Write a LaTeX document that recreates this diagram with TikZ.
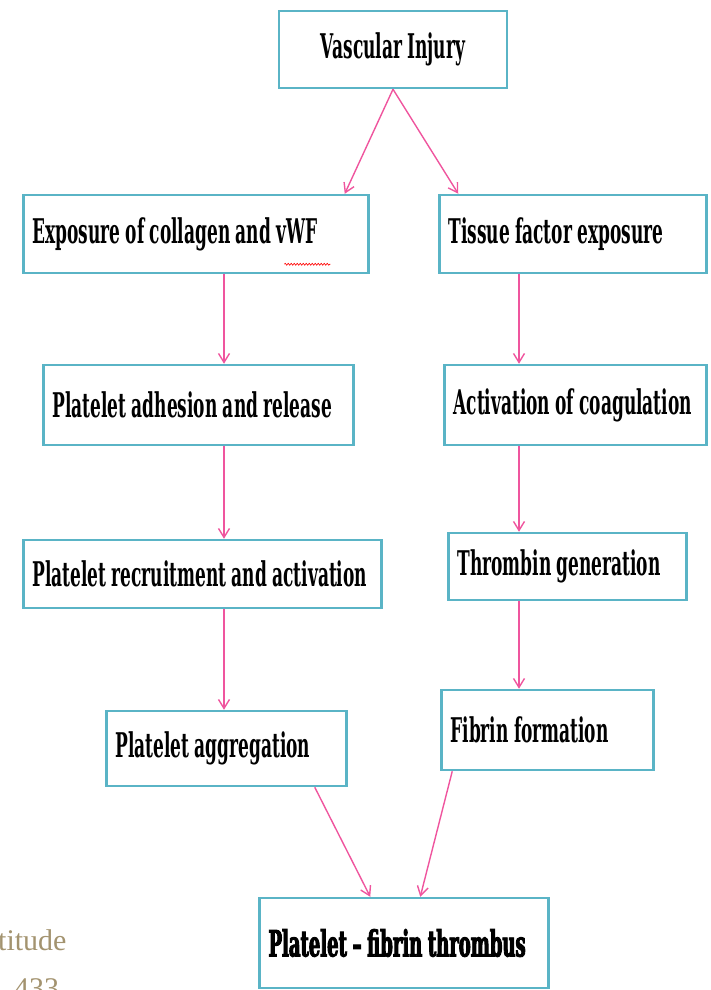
\documentclass[tikz,border=0pt]{standalone}
\usepackage{fontspec}
\setmainfont{DejaVu Serif}[UprightFont=* Bold, BoldFont=* Bold, BoldFeatures={FakeBold=2.5}, FakeStretch=0.5, WordSpace=0.9]
\newfontfamily\notefont{Liberation Serif}
\usetikzlibrary{arrows.meta,decorations.pathmorphing}
\definecolor{boxteal}{HTML}{5AB4C6}
\definecolor{arrowpink}{HTML}{EF559E}
\definecolor{notetan}{HTML}{A3936F}

\begin{document}
\begin{tikzpicture}[x=1pt, y=-1pt,
	box/.style = {draw=boxteal, line width=2.5pt, fill=white, align=left, inner xsep=9pt, font=\fontsize{34}{38}\selectfont,
		execute at begin node={\spaceskip=0pt\xspaceskip=0pt}},
	link/.style = {draw=arrowpink, line width=1.4pt, -{Straight Barb[length=9pt,width=11pt]}},
	squiggle/.style = {draw=red, line width=0.6pt, decorate, decoration={snake, amplitude=1pt, segment length=3pt}}]
	\useasboundingbox (0,0) rectangle (710,990);
	\coordinate (lcol) at (224,0);
	\coordinate (rcol) at (519,0);
	% boxes
	\node[box, minimum width=228pt, minimum height=77pt, align=center] (inj) at (393,49.5) {Vascular Injury};
	\node[box, text width=327pt, minimum height=78pt] (expo) at (196,234) {\mbox{Exposure of collagen and vWF}};
	\node[box, text width=249pt, minimum height=78pt] (tissue) at (573,234) {\mbox{Tissue factor exposure}};
	\node[box, text width=292pt, minimum height=80pt] (adh) at (198.5,405) {\mbox{Platelet adhesion and release}};
	\node[box, text width=244pt, minimum height=80pt] (activ) at (575.5,405) {\mbox{Activation of coagulation}};
	\node[box, text width=340pt, minimum height=68pt] (recr) at (202.5,574) {\mbox{Platelet recruitment and activation}};
	\node[box, text width=220pt, minimum height=67pt] (thromb) at (567.5,566.5) {\mbox{Thrombin generation}};
	\node[box, text width=222pt, minimum height=75pt] (agg) at (226.5,748.5) {\mbox{Platelet aggregation}};
	\node[box, text width=194pt, minimum height=80pt] (fib) at (547.5,730) {\mbox{Fibrin formation}};
	\node[box, text width=271pt, minimum height=90pt, font=\fontsize{36}{40}\selectfont] (thr) at (404,943) {\mbox{\bfseries Platelet -- fibrin thrombus}};
	% spell-check mark under vWF
	\draw[squiggle] ([xshift=262pt,yshift=10pt]expo.south west) -- ([xshift=308pt,yshift=10pt]expo.south west);
	% clipped note at the lower left
	\node[anchor=base west, inner sep=0pt, text=notetan, font=\notefont\fontsize{30}{34}\selectfont] (note1) at (-2,950) {titude};
	\node[anchor=base west, inner sep=0pt, text=notetan, font=\notefont\fontsize{30}{34}\selectfont] (note2) at (14,998) {433};
	% arrows
	\draw[link] (inj.south) to ([xshift=-25pt]expo.north east);
	\draw[link] (inj.south) to ([xshift=20pt]tissue.north west);
	\draw[link] (expo.south -| lcol) to (adh.north -| lcol);
	\draw[link] (adh.south -| lcol) to (recr.north -| lcol);
	\draw[link] (recr.south -| lcol) to (agg.north -| lcol);
	\draw[link] (tissue.south -| rcol) to (activ.north -| rcol);
	\draw[link] (activ.south -| rcol) to (thromb.north -| rcol);
	\draw[link] (thromb.south -| rcol) to (fib.north -| rcol);
	\draw[link] ([xshift=-33pt]agg.south east) to ([xshift=112pt]thr.north west);
	\draw[link] ([xshift=12pt]fib.south west) to ([xshift=162pt]thr.north west);
\end{tikzpicture}
\end{document}
